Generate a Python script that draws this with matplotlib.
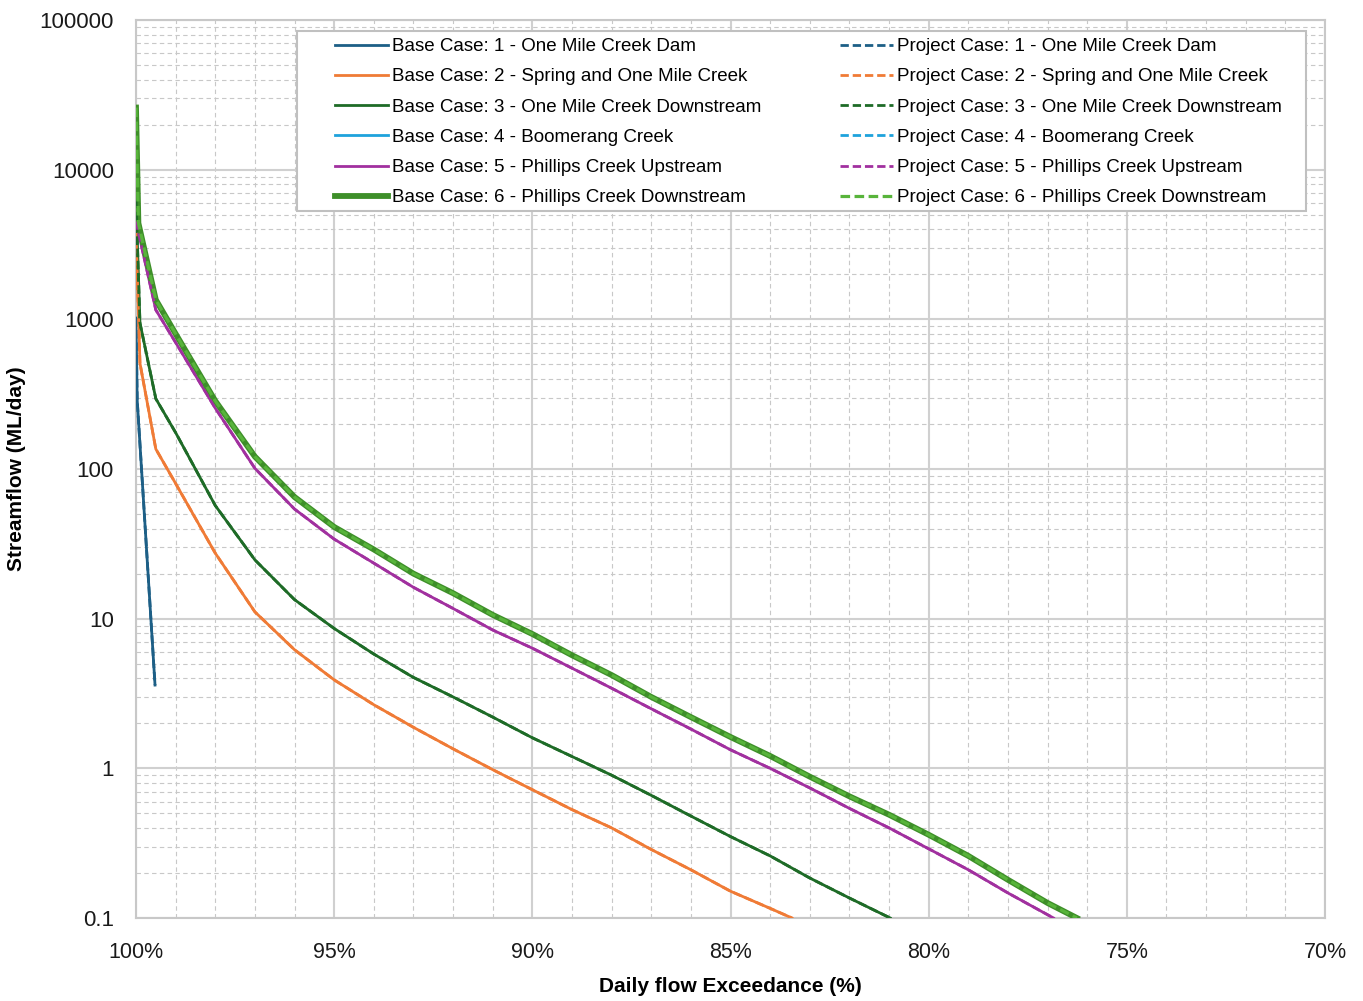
import matplotlib
matplotlib.use("Agg")
import matplotlib.pyplot as plt
from matplotlib.ticker import FixedLocator, FuncFormatter, LogLocator, NullFormatter
from matplotlib.patches import Rectangle

# exceedance (%) and streamflow (ML/day)
x1 = [100, 99.97, 99.52]
y1 = [1020, 290, 3.6]

x2 = [100, 99.9, 99.5, 99, 98, 97, 96, 95, 94, 93, 92, 91, 90, 89, 88, 87, 86, 85, 84, 83.45]
y2 = [3780, 509, 136, 80, 27.4, 11.1, 6.2, 3.9, 2.66, 1.88, 1.35, 0.98, 0.72, 0.53, 0.4, 0.287, 0.21, 0.151, 0.116, 0.1]

x3 = [100, 99.9, 99.5, 99, 98, 97, 96, 95, 94, 93, 92, 91, 90, 89, 88, 87, 86, 85, 84, 83, 82, 80.97]
y3 = [6300, 946, 295, 175, 57, 24.7, 13.4, 8.6, 5.8, 4.05, 3.0, 2.2, 1.6, 1.2, 0.9, 0.66, 0.48, 0.35, 0.26, 0.185, 0.136, 0.1]

x4 = []
y4 = []

x5 = [100, 99.5, 99, 98, 97, 96, 95, 94, 93, 92, 91, 90, 89, 88, 87, 86, 85, 84, 83, 82, 81, 80, 79, 78, 76.85]
y5 = [4500, 1156, 700, 255, 101, 54, 34, 23.5, 16.2, 11.7, 8.4, 6.35, 4.67, 3.43, 2.5, 1.83, 1.33, 1.0, 0.74, 0.54, 0.40, 0.29, 0.21, 0.147, 0.1]

x6 = [100, 99.94, 99.5, 99, 98, 97, 96, 95, 94, 93, 92, 91, 90, 89, 88, 87, 86, 85, 84, 83, 82, 81, 80, 79, 78, 77, 76.26]
y6 = [26000, 4400, 1350, 800, 285, 121, 65, 41, 29, 20, 14.8, 10.6, 7.9, 5.7, 4.2, 3.0, 2.2, 1.62, 1.21, 0.88, 0.65, 0.49, 0.36, 0.26, 0.18, 0.126, 0.1]

site_names = ["1 - One Mile Creek Dam", "2 - Spring and One Mile Creek",
              "3 - One Mile Creek Downstream", "4 - Boomerang Creek",
              "5 - Phillips Creek Upstream", "6 - Phillips Creek Downstream"]
base_x = [x1, x2, x3, x4, x5, x6]
base_y = [y1, y2, y3, y4, y5, y6]
# project case curves sit on top of the base case
proj_x = base_x
proj_y = base_y

base_colors = ["#1d5f86", "#ef7b36", "#1e6b27", "#1ea2dc", "#a1309f", "#3e8f29"]
proj_colors = ["#1d5f86", "#f07b36", "#1e6b27", "#1ea2dc", "#a1309f", "#58b43b"]
base_lw = [2.0, 2.0, 2.0, 2.0, 2.0, 4.2]

plt.rcParams['font.family'] = ['Liberation Sans', 'DejaVu Sans']

fig = plt.figure(figsize=(13.63, 10.01), dpi=100)
ax = fig.add_axes([136 / 1363, 1 - 918 / 1001, 1189 / 1363, 898 / 1001])

base_handles = []
for i in range(6):
    h, = ax.plot(base_x[i], base_y[i], color=base_colors[i], lw=base_lw[i],
                 label="Base Case: " + site_names[i], zorder=3)
    base_handles.append(h)
proj_handles = []
for i in range(6):
    h, = ax.plot(proj_x[i], proj_y[i], color=proj_colors[i], lw=2.3 if i == 5 else 2.0,
                 ls=(0, (3.0, 1.4)), label="Project Case: " + site_names[i], zorder=4)
    proj_handles.append(h)

ax.set_yscale('log')
ax.set_ylim(0.1, 100000)
ax.set_xlim(100, 70)

ax.xaxis.set_major_locator(FixedLocator([100, 95, 90, 85, 80, 75, 70]))
ax.xaxis.set_minor_locator(FixedLocator(list(range(70, 101))))
ax.xaxis.set_major_formatter(FuncFormatter(lambda v, p: f"{v:.0f}%"))
ax.yaxis.set_major_locator(FixedLocator([0.1, 1, 10, 100, 1000, 10000, 100000]))
ax.yaxis.set_minor_locator(LogLocator(base=10, subs=[2, 3, 4, 5, 6, 7, 8, 9]))
ax.yaxis.set_minor_formatter(NullFormatter())
ax.yaxis.set_major_formatter(FuncFormatter(lambda v, p: "0.1" if v < 1 else f"{v:.0f}"))

ax.grid(which='major', color='#d0d0d0', lw=1.5, ls='-', zorder=0)
ax.grid(which='minor', color='#c8c8c8', lw=0.8, ls=(0, (4, 3)), zorder=0)
ax.set_axisbelow(True)
for s in ax.spines.values():
    s.set_color('#c8c8c8')
    s.set_linewidth(1.5)
ax.tick_params(which='both', length=0)
ax.tick_params(axis='x', labelsize=15.5, pad=17, colors='#1a1a1a')
ax.tick_params(axis='y', labelsize=16, pad=16, colors='#1a1a1a')

ax.set_xlabel("Daily flow Exceedance (%)", fontsize=15, fontweight='bold', labelpad=10)
ax.set_ylabel("Streamflow (ML/day)", fontsize=15, fontweight='bold', labelpad=10)

# legend frame drawn by hand, two legend columns placed on it
frame = Rectangle((297 / 1363, 1 - 211 / 1001), 1009 / 1363, 180 / 1001,
                  transform=fig.transFigure, facecolor='white', edgecolor='#c0c0c0',
                  lw=1.5, zorder=5, clip_on=False)
ax.add_patch(frame)

leg_kw = dict(loc='upper left', bbox_transform=fig.transFigure,
              prop={'size': 13.5}, frameon=False, handlelength=2.8,
              handletextpad=0.25, labelspacing=0.7, borderpad=0, borderaxespad=0)
leg1 = ax.legend(handles=base_handles, bbox_to_anchor=(335 / 1363, 1 - 38 / 1001), **leg_kw)
leg1.set_zorder(6)
ax.add_artist(leg1)
leg2 = ax.legend(handles=proj_handles, bbox_to_anchor=(840 / 1363, 1 - 38 / 1001), **leg_kw)
leg2.set_zorder(6)

fig.savefig("out.png", dpi=100)
